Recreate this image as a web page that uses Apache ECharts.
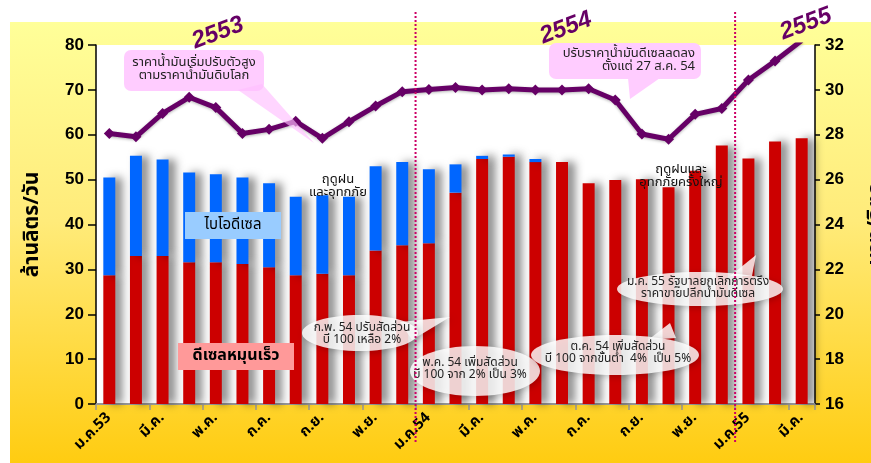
<!DOCTYPE html>
<html>
<head>
<meta charset="utf-8">
<script src="https://cdn.jsdelivr.net/npm/echarts@6/dist/echarts.min.js"></script>
<style>
html,body{margin:0;padding:0;background:#fff;}
#c{width:871px;height:463px;}
</style>
</head>
<body>
<div id="c"></div>
<script>
var months = ['ม.ค.53','ก.พ.','มี.ค.','เม.ย.','พ.ค.','มิ.ย.','ก.ค.','ส.ค.','ก.ย.','ต.ค.','พ.ย.','ธ.ค.',
              'ม.ค.54','ก.พ.','มี.ค.','เม.ย.','พ.ค.','มิ.ย.','ก.ค.','ส.ค.','ก.ย.','ต.ค.','พ.ย.','ธ.ค.',
              'ม.ค.55','ก.พ.','มี.ค.'];
var dieselHS = [28.7, 33.0, 33.0, 31.6, 31.6, 31.2, 30.5, 28.7, 29.0, 28.7, 34.2, 35.4,
                35.8, 47.1, 54.6, 55.1, 53.9, 53.9, 49.2, 49.9, 50.1, 48.3, 52.0, 57.6,
                54.7, 58.5, 59.2];
var biodiesel = [21.8, 22.3, 21.5, 20.0, 19.6, 19.3, 18.7, 17.5, 17.5, 17.5, 18.8, 18.5,
                 16.5, 6.3, 0.7, 0.5, 0.7, 0, 0, 0, 0, 0, 0, 0,
                 0, 0, 0];
var price = [28.06, 27.91, 28.95, 29.67, 29.21, 28.06, 28.24, 28.6, 27.84, 28.58, 29.28, 29.92,
             30.02, 30.11, 29.99, 30.05, 29.99, 29.99, 30.05, 29.55, 28.03, 27.8, 28.91, 29.17,
             30.44, 31.29, 32.2];
var leftTicks = {min: 0, max: 80, interval: 10};
var rightTicks = {min: 16, max: 32, interval: 2};

var FONT = "Tahoma, 'Noto Sans Thai', 'Liberation Sans', sans-serif";
var chart = echarts.init(document.getElementById('c'), null, {renderer: 'canvas'});

var barShadow = {shadowBlur: 9, shadowOffsetX: 7, shadowOffsetY: 0, shadowColor: 'rgba(0,0,0,0.45)'};

chart.setOption({
  animation: false,
  backgroundColor: '#ffffff',
  grid: {left: 96, right: 56, top: 45, bottom: 59, show: true, backgroundColor: '#ffffff', borderWidth: 0,
    containLabel: false, outerBoundsMode: 'none'},
  xAxis: {
    type: 'category',
    data: months,
    boundaryGap: true,
    axisLine: {show: true, lineStyle: {color: '#999999', width: 2}},
    axisTick: {show: true, interval: 1, length: 6, lineStyle: {color: '#999999', width: 1.5}},
    axisLabel: {interval: 1, rotate: 45, margin: 12, color: '#000', fontWeight: 'bold', fontSize: 15, fontFamily: FONT}
  },
  yAxis: [{
    type: 'value', min: leftTicks.min, max: leftTicks.max, interval: leftTicks.interval,
    name: 'ล้านลิตร/วัน', nameLocation: 'middle', nameGap: 52, nameRotate: 90,
    nameTextStyle: {fontSize: 21, fontWeight: 'bold', color: '#000', fontFamily: FONT},
    axisLine: {show: true, lineStyle: {color: '#000', width: 1.5}},
    axisTick: {show: true, length: 8, inside: false, lineStyle: {color: '#000', width: 1.5}},
    axisLabel: {color: '#000', fontWeight: 'bold', fontSize: 17, margin: 12, fontFamily: "'Liberation Sans', Arial, sans-serif"},
    splitLine: {show: false}
  }, {
    type: 'value', min: rightTicks.min, max: rightTicks.max, interval: rightTicks.interval,
    name: 'บาท/ลิตร', nameLocation: 'middle', nameGap: 52, nameRotate: 90,
    nameTextStyle: {fontSize: 21, fontWeight: 'bold', color: '#000', fontFamily: FONT},
    axisLine: {show: true, lineStyle: {color: '#000', width: 1.5}},
    axisTick: {show: true, length: 5, lineStyle: {color: '#000', width: 1.5}},
    axisLabel: {color: '#000', fontWeight: 'bold', fontSize: 17, margin: 10, fontFamily: "'Liberation Sans', Arial, sans-serif"},
    splitLine: {show: false}
  }],
  series: [{
    name: 'ดีเซลหมุนเร็ว', type: 'bar', stack: 'd', data: dieselHS, barWidth: '45%',
    itemStyle: Object.assign({color: '#CC0000'}, barShadow), z: 2
  }, {
    name: 'ไบโอดีเซล', type: 'bar', stack: 'd', data: biodiesel, barWidth: '45%',
    itemStyle: Object.assign({color: '#0066FF'}, barShadow), z: 2
  }, {
    name: 'ราคา', type: 'line', yAxisIndex: 1, data: price,
    symbol: 'diamond', symbolSize: 11,
    lineStyle: {color: '#660066', width: 5, shadowBlur: 3, shadowColor: 'rgba(0,0,0,0.3)', shadowOffsetY: 1},
    itemStyle: {color: '#660066'}, z: 5
  }]
});

function midPx(a, b) {
  return (chart.convertToPixel({xAxisIndex: 0}, a) + chart.convertToPixel({xAxisIndex: 0}, b)) / 2;
}
var v1 = midPx(11, 12), v2 = midPx(23, 24);

function txt(x, y, t, font, fill, align) {
  return {type: 'text', z: 20, style: {x: x, y: y, text: t, font: font, fill: fill || '#222',
    align: align || 'center', verticalAlign: 'middle'}};
}
function yearLabel(x, y, t) {
  return {type: 'text', x: x, y: y, rotation: 0.36, z: 30,
    style: {text: t, font: "italic bold 24px 'Liberation Sans', Arial, sans-serif", fill: '#660066',
      align: 'center', verticalAlign: 'middle', shadowBlur: 3, shadowColor: 'rgba(0,0,0,0.45)', shadowOffsetX: 2, shadowOffsetY: 2}};
}
var ellStyle = {fill: 'rgba(255,255,255,0.82)', shadowBlur: 6, shadowColor: 'rgba(0,0,0,0.25)', shadowOffsetX: 2, shadowOffsetY: 2};
var smallFont = "12px " + FONT;

chart.setOption({
  graphic: [
    {type: 'rect', z: -10, silent: true, shape: {x: 10, y: 22, width: 861, height: 441},
      style: {fill: new echarts.graphic.LinearGradient(0, 0, 0, 1, [
        {offset: 0, color: '#FFFF99'}, {offset: 0.45, color: '#FFEB7A'}, {offset: 1, color: '#FFCC11'}])}},
    {type: 'line', z: 25, shape: {x1: v1, y1: 12, x2: v1, y2: 442}, style: {stroke: '#CC0066', lineWidth: 2, lineDash: [2, 2]}},
    {type: 'line', z: 25, shape: {x1: v2, y1: 12, x2: v2, y2: 442}, style: {stroke: '#CC0066', lineWidth: 2, lineDash: [2, 2]}},
    yearLabel(218, 33, '2553'),
    yearLabel(566, 28, '2554'),
    yearLabel(806, 24, '2555'),
    {type: 'rect', z: 18, shape: {x: 124, y: 50, width: 140, height: 41, r: 7}, style: {fill: '#FFCCFF'}},
    {type: 'polygon', z: 22, shape: {points: [[238, 90], [262, 84], [314, 143]]}, style: {fill: 'rgba(255,190,255,0.65)'}},
    txt(194, 70, 'ราคาน้ำมันเริ่มปรับตัวสูง\nตามราคาน้ำมันดิบโลก', "13px " + FONT, '#222', 'center'),
    {type: 'rect', z: 18, shape: {x: 549, y: 43, width: 152, height: 36, r: 7}, style: {fill: '#FFCCFF'}},
    {type: 'polygon', z: 18, shape: {points: [[628, 78], [660, 78], [630, 99]]}, style: {fill: '#FFCCFF'}},
    txt(695, 61, 'ปรับราคาน้ำมันดีเซลลดลง\nตั้งแต่ 27 ส.ค. 54', "13px " + FONT, '#222', 'right'),
    {type: 'rect', z: 18, shape: {x: 185, y: 212, width: 96, height: 27}, style: {fill: '#99CCFF'}},
    txt(233, 226, 'ไบโอดีเซล', "15px " + FONT, '#000'),
    {type: 'rect', z: 18, shape: {x: 178, y: 343, width: 116, height: 27}, style: {fill: '#FF9999'}},
    txt(236, 357, 'ดีเซลหมุนเร็ว', "bold 16px " + FONT, '#000'),
    txt(338, 187, 'ฤดูฝน\nและอุทกภัย', "13px " + FONT, '#111'),
    txt(681, 177, 'ฤดูฝนและ\nอุทกภัยครั้งใหญ่', "13px " + FONT, '#111'),
    {type: 'polygon', z: 18, shape: {points: [[400, 322], [412, 340], [450, 317]]}, style: ellStyle},
    {type: 'ellipse', z: 18, shape: {cx: 360, cy: 333, rx: 58, ry: 18}, style: ellStyle},
    txt(362, 335, 'ก.พ. 54 ปรับสัดส่วน\nบี 100 เหลือ 2%', smallFont),
    {type: 'ellipse', z: 18, shape: {cx: 475, cy: 371, rx: 65, ry: 25}, style: ellStyle},
    txt(470, 370, 'พ.ค. 54 เพิ่มสัดส่วน\nบี 100 จาก 2% เป็น 3%', smallFont),
    {type: 'polygon', z: 18, shape: {points: [[648, 340], [676, 338], [670, 323]]}, style: ellStyle},
    {type: 'ellipse', z: 18, shape: {cx: 615, cy: 355, rx: 84, ry: 20}, style: ellStyle},
    txt(618, 354, 'ต.ค. 54 เพิ่มสัดส่วน\nบี 100 จากขั้นต่ำ  4%  เป็น 5%', smallFont),
    {type: 'polygon', z: 18, shape: {points: [[730, 276], [752, 276], [756, 255]]}, style: ellStyle},
    {type: 'ellipse', z: 18, shape: {cx: 700, cy: 289, rx: 83, ry: 17}, style: ellStyle},
    txt(698, 289, 'ม.ค. 55 รัฐบาลยกเลิกการตรึง\nราคาขายปลีกน้ำมันดีเซล', smallFont)
  ]
});
</script>
</body>
</html>
